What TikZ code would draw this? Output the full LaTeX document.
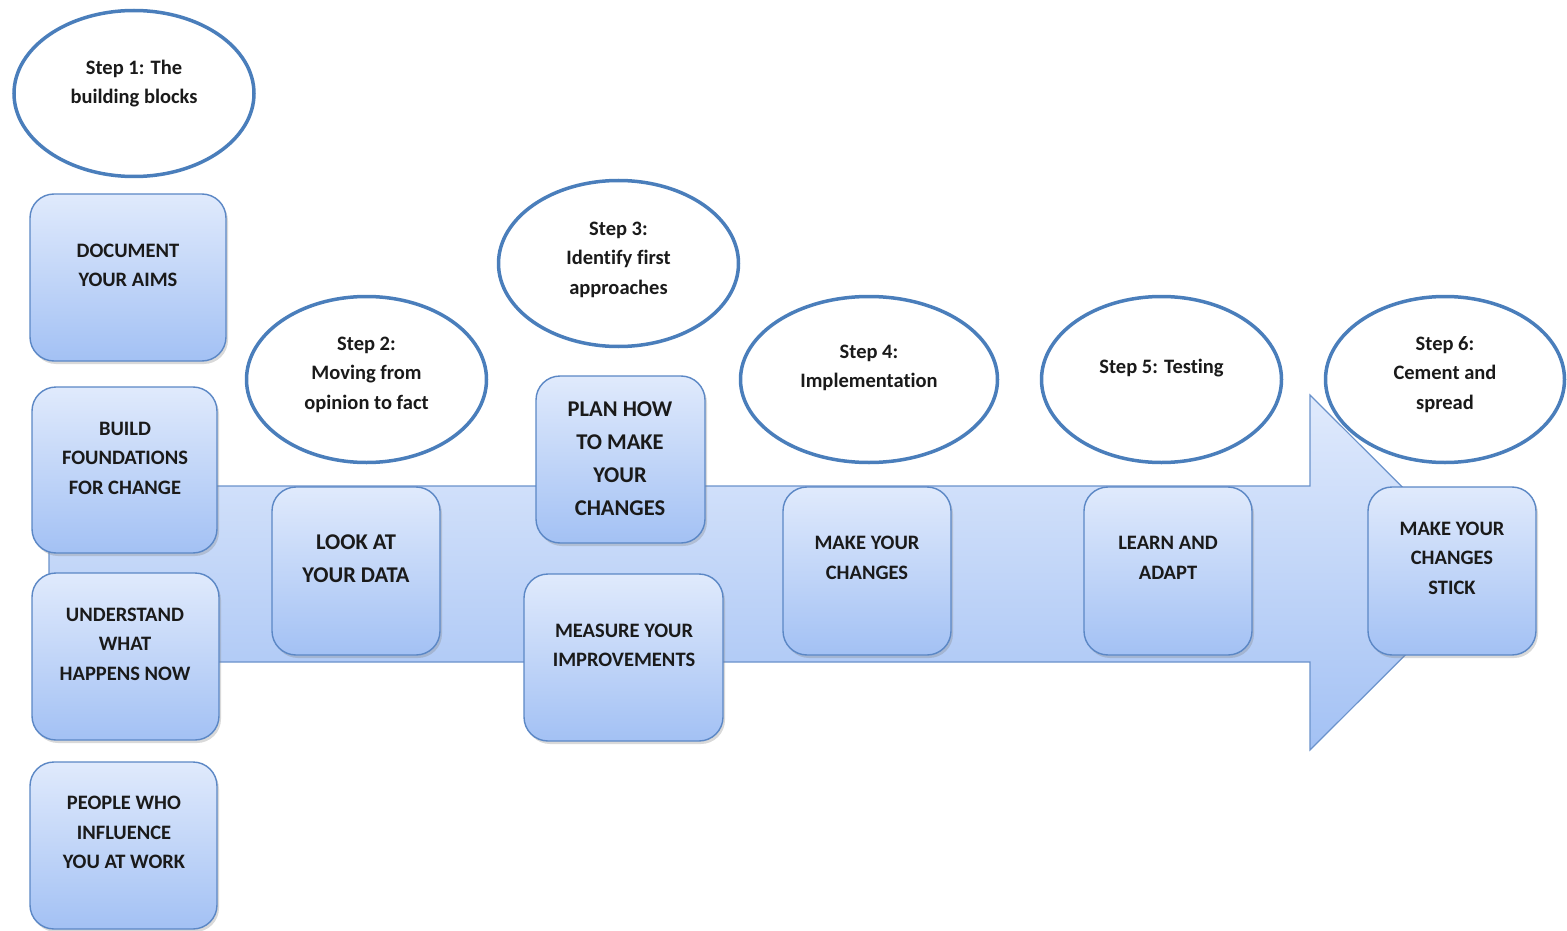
\documentclass[tikz,border=0pt]{standalone}
\usepackage{fontspec}
\setmainfont{Carlito}[Ligatures=NoCommon]
\usetikzlibrary{shapes.geometric,shadows}
\definecolor{boxline}{HTML}{5B87C5}
\definecolor{boxtop}{HTML}{E0EAFC}
\definecolor{boxbot}{HTML}{A3C1F4}
\definecolor{ellline}{HTML}{4A7EBB}
\definecolor{arrline}{HTML}{6A92CB}
\definecolor{txt}{HTML}{1A1A1A}
\tikzset{
  stepbox/.style={draw=boxline, line width=1.4pt, rounded corners=24pt,
    top color=boxtop, bottom color=boxbot, inner sep=0pt,
    drop shadow={shadow xshift=2pt, shadow yshift=-3pt, opacity=0.3}},
  boxtext/.style={align=center, text=txt, inner sep=0pt,
    font=\fontsize{20.5}{29.5}\selectfont\bfseries},
  bigtext/.style={align=center, text=txt, inner sep=0pt,
    font=\fontsize{22.5}{33}\selectfont\bfseries},
  stepell/.style={ellipse, draw=ellline, line width=3.5pt, fill=white, inner sep=0pt},
  elltext/.style={align=center, text=txt, inner sep=0pt,
    font=\fontsize{20.5}{29.5}\selectfont\bfseries},
}
\begin{document}
\begin{tikzpicture}[x=1pt,y=-1pt]
\useasboundingbox (0,0) rectangle (1567,931);
% big arrow
\path[draw=arrline, line width=1.2pt, top color=boxtop, bottom color=boxbot]
  (49,486) -- (1310,486) -- (1310,395) -- (1488,572.5) -- (1310,750)
  -- (1310,662) -- (49,662) -- cycle;
\coordinate (arrowtip) at (1488,572.5);
% boxes
\node[stepbox, minimum width=196pt, minimum height=167pt] (b1) at (128,277.5) {};
\node[stepbox, minimum width=185pt, minimum height=166pt] (b2) at (124.5,470) {};
\node[stepbox, minimum width=187pt, minimum height=167pt] (b3) at (125.5,656.5) {};
\node[stepbox, minimum width=187pt, minimum height=167pt] (b4) at (123.5,845.5) {};
\node[stepbox, minimum width=168pt, minimum height=168pt] (b5) at (356,571) {};
\node[stepbox, minimum width=169pt, minimum height=167pt] (b6) at (620.5,459.5) {};
\node[stepbox, minimum width=199pt, minimum height=167pt] (b7) at (623.5,657.5) {};
\node[stepbox, minimum width=168pt, minimum height=168pt] (b8) at (867,571) {};
\node[stepbox, minimum width=168pt, minimum height=168pt] (b9) at (1168,571) {};
\node[stepbox, minimum width=168pt, minimum height=168pt] (b10) at (1452,571) {};
\node[boxtext] (t1) at (128,265.5) {DOCUMENT\\YOUR AIMS};
\node[boxtext] (t2) at (125,458) {BUILD\\FOUNDATIONS\\FOR CHANGE};
\node[boxtext] (t3) at (125,644) {UNDERSTAND\\WHAT\\HAPPENS NOW};
\node[boxtext] (t4) at (124,832.5) {PEOPLE WHO\\INFLUENCE\\YOU AT WORK};
\node[bigtext] (t5) at (356,559) {LOOK AT\\YOUR DATA};
\node[bigtext] (t6) at (620,459) {PLAN HOW\\TO MAKE\\YOUR\\CHANGES};
\node[boxtext] (t7) at (624,645.5) {MEASURE YOUR\\IMPROVEMENTS};
\node[boxtext] (t8) at (867,558) {MAKE YOUR\\CHANGES};
\node[boxtext] (t9) at (1168,558) {LEARN AND\\ADAPT};
\node[boxtext] (t10) at (1452,558) {MAKE YOUR\\CHANGES\\STICK};
% ellipses
\node[stepell, minimum width=240pt, minimum height=166pt] (e1) at (134,93.5) {};
\node[stepell, minimum width=240pt, minimum height=166pt] (e2) at (366.5,379.5) {};
\node[stepell, minimum width=240pt, minimum height=166pt] (e3) at (618.5,263.5) {};
\node[stepell, minimum width=257pt, minimum height=166pt] (e4) at (869,379.5) {};
\node[stepell, minimum width=240pt, minimum height=166pt] (e5) at (1161.5,379.5) {};
\node[stepell, minimum width=239pt, minimum height=166pt] (e6) at (1445,379.5) {};
\node[elltext] (s1) at (134,83.5) {Step 1: The\\building blocks};
\node[elltext] (s2) at (366.5,374.5) {Step 2:\\Moving from\\opinion to fact};
\node[elltext] (s3) at (618.5,259.5) {Step 3:\\Identify first\\approaches};
\node[elltext] (s4) at (869,368) {Step 4:\\Implementation};
\node[elltext] (s5) at (1161.5,368) {Step 5: Testing};
\node[elltext] (s6) at (1445,374.5) {Step 6:\\Cement and\\spread};
\end{tikzpicture}
\end{document}
